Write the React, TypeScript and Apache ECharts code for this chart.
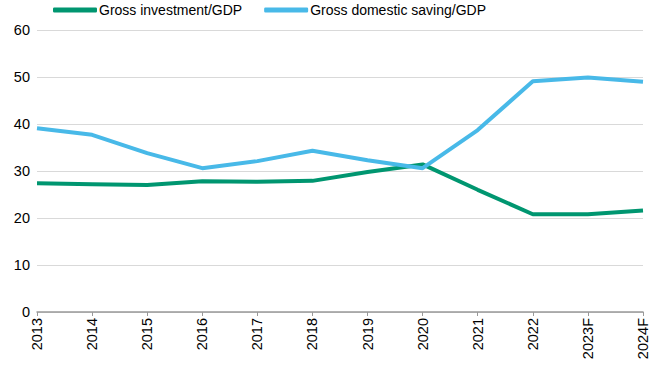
import React, { useEffect, useRef } from "react";
import * as echarts from "echarts";

const categories = ["2013", "2014", "2015", "2016", "2017", "2018", "2019", "2020", "2021", "2022", "2023F", "2024F"];
const investment = [27.4, 27.2, 27.0, 27.8, 27.7, 27.9, 29.8, 31.4, 26.0, 20.8, 20.8, 21.6];
const saving = [39.1, 37.7, 33.8, 30.6, 32.1, 34.3, 32.3, 30.6, 38.7, 49.1, 49.9, 49.0];
const yTicks = { min: 0, max: 60, interval: 10 };

export default function App() {
  const ref = useRef<HTMLDivElement>(null);
  useEffect(() => {
    const chart = echarts.init(ref.current!, null, { renderer: "svg" });
    chart.setOption({
      animation: false,
      textStyle: { fontFamily: "Liberation Sans, Arial, sans-serif" },
      legend: {
        top: -2,
        left: 48,
        itemWidth: 44,
        itemHeight: 5,
        itemGap: 22,
        icon: "roundRect",
        textStyle: { fontSize: 14, color: "#000", padding: [0, 0, 0, -3] },
        data: ["Gross investment/GDP", "Gross domestic saving/GDP"],
      },
      grid: { left: 37, right: 19, top: 30, bottom: 61 },
      xAxis: {
        type: "category",
        data: categories,
        boundaryGap: false,
        axisLine: { lineStyle: { color: "#999", width: 1.5 } },
        axisTick: { show: true, alignWithLabel: true, lineStyle: { color: "#999" }, length: 4 },
        axisLabel: { rotate: 90, fontSize: 14.5, color: "#000", margin: 6, interval: 0 },
      },
      yAxis: {
        type: "value",
        ...yTicks,
        axisLine: { show: false },
        axisTick: { show: false },
        splitLine: { lineStyle: { color: "#d9d9d9" } },
        axisLabel: { fontSize: 14.5, color: "#000", margin: 7 },
      },
      series: [
        {
          name: "Gross investment/GDP",
          type: "line",
          data: investment,
          symbol: "none",
          lineStyle: { width: 4, color: "#009670" },
          itemStyle: { color: "#009670" },
        },
        {
          name: "Gross domestic saving/GDP",
          type: "line",
          data: saving,
          symbol: "none",
          lineStyle: { width: 4, color: "#48b9e8" },
          itemStyle: { color: "#48b9e8" },
        },
      ],
    });
    return () => chart.dispose();
  }, []);
  return <div ref={ref} style={{ width: 662, height: 373, position: "absolute", left: 0, top: 0 }} />;
}
